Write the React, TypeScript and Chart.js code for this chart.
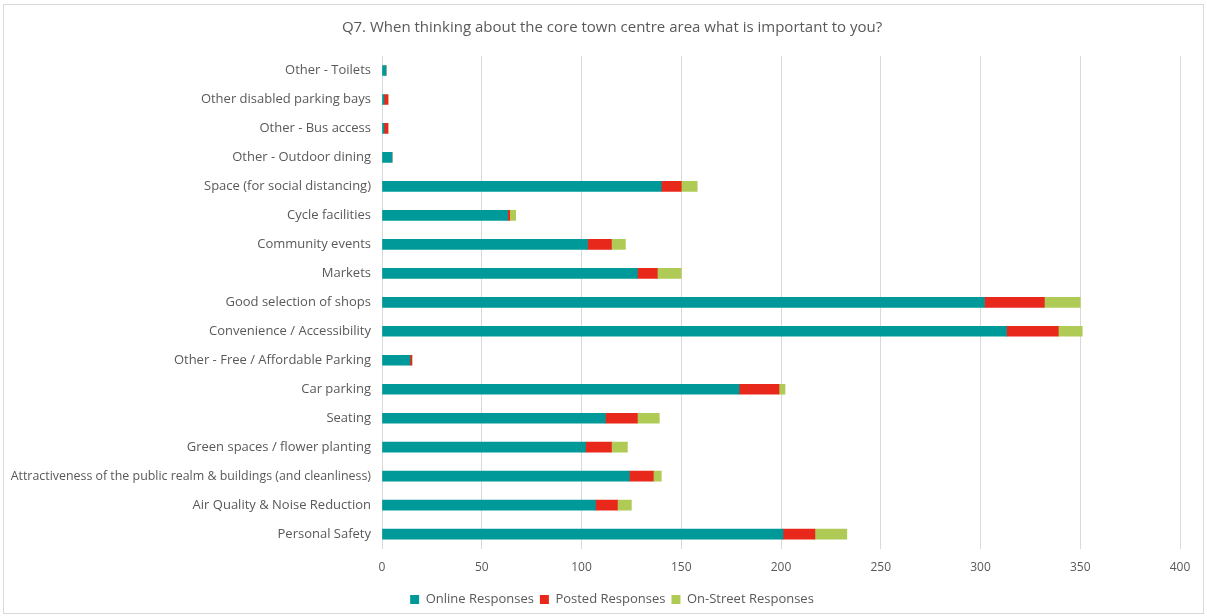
import React, { useEffect, useRef } from "react";
import { Chart, registerables } from "chart.js";

Chart.register(...registerables);

const categories = [
  "Other - Toilets",
  "Other disabled parking bays",
  "Other - Bus access",
  "Other - Outdoor dining",
  "Space (for social distancing)",
  "Cycle facilities",
  "Community events",
  "Markets",
  "Good selection of shops",
  "Convenience / Accessibility",
  "Other - Free / Affordable Parking",
  "Car parking",
  "Seating",
  "Green spaces / flower planting",
  "Attractiveness of the public realm & buildings (and cleanliness)",
  "Air Quality & Noise Reduction",
  "Personal Safety",
];

const onlineResponses = [2, 1, 1, 5, 140, 63, 103, 128, 302, 313, 14, 179, 112, 102, 124, 107, 201];
const postedResponses = [0, 2, 2, 0, 10, 1, 12, 10, 30, 26, 1, 20, 16, 13, 12, 11, 16];
const onStreetResponses = [0, 0, 0, 0, 8, 3, 7, 12, 18, 12, 0, 3, 11, 8, 4, 7, 16];

const TEXT = "#595959";
const GRID = "#d9d9d9";

const shiftBlocks = {
  id: "shiftBlocks",
  afterLayout(chart: any) {
    const dx = 22;
    for (const b of [chart.titleBlock, chart.legend]) {
      if (b) {
        b.left += dx;
        b.right += dx;
      }
    }
  },
};

export default function App() {
  const ref = useRef<HTMLCanvasElement | null>(null);

  useEffect(() => {
    document.body.style.margin = "0";
    const canvas = ref.current;
    if (!canvas) return;
    const chart = new Chart(canvas, {
      type: "bar",
      data: {
        labels: categories,
        datasets: [
          { label: "Online Responses", data: onlineResponses, backgroundColor: "#009999" },
          { label: "Posted Responses", data: postedResponses, backgroundColor: "#e8281a" },
          { label: "On-Street Responses", data: onStreetResponses, backgroundColor: "#b0cb55" },
        ],
      },
      options: {
        indexAxis: "y",
        animation: false,
        responsive: false,
        maintainAspectRatio: false,
        datasets: { bar: { barThickness: 10 } },
        layout: { padding: { left: 0, right: 27, top: 0, bottom: 0 } },
        plugins: {
          tooltip: { enabled: false },
          title: {
            display: true,
            text: "Q7. When thinking about the core town centre area what is important to you?",
            color: TEXT,
            font: { family: "'Open Sans', sans-serif", size: 15, weight: "normal" },
            padding: { top: 19, bottom: 19 },
          },
          legend: {
            position: "bottom",
            labels: {
              color: TEXT,
              font: { family: "'Open Sans', sans-serif", size: 13 },
              boxWidth: 9,
              boxHeight: 9,
              padding: 6,
            },
          },
        },
        scales: {
          x: {
            stacked: true,
            min: 0,
            max: 400,
            grid: { color: GRID, drawTicks: false },
            border: { display: false },
            ticks: {
              stepSize: 50,
              color: TEXT,
              font: { family: "'Open Sans', sans-serif", size: 12 },
              padding: 12,
            },
          },
          y: {
            stacked: true,
            grid: { display: false },
            border: { display: true, color: GRID, width: 1 },
            ticks: {
              color: TEXT,
              font: (ctx: any) => ({
                family: "'Open Sans', sans-serif",
                size: String(categories[ctx.index] || "").length > 40 ? 12.4 : 13,
              }),
              padding: 3,
              autoSkip: false,
            },
            afterFit: (s: any) => {
              s.width = 382;
            },
          },
        },
      },
      plugins: [shiftBlocks],
    });
    return () => chart.destroy();
  }, []);

  return (
    <div style={{ position: "relative", width: 1207, height: 616, background: "#fff" }}>
      <canvas ref={ref} width={1207} height={616} style={{ display: "block" }} />
      <div
        style={{
          position: "absolute",
          left: 3,
          top: 4,
          width: 1201,
          height: 610,
          border: "1px solid " + GRID,
          boxSizing: "border-box",
          pointerEvents: "none",
        }}
      />
    </div>
  );
}
